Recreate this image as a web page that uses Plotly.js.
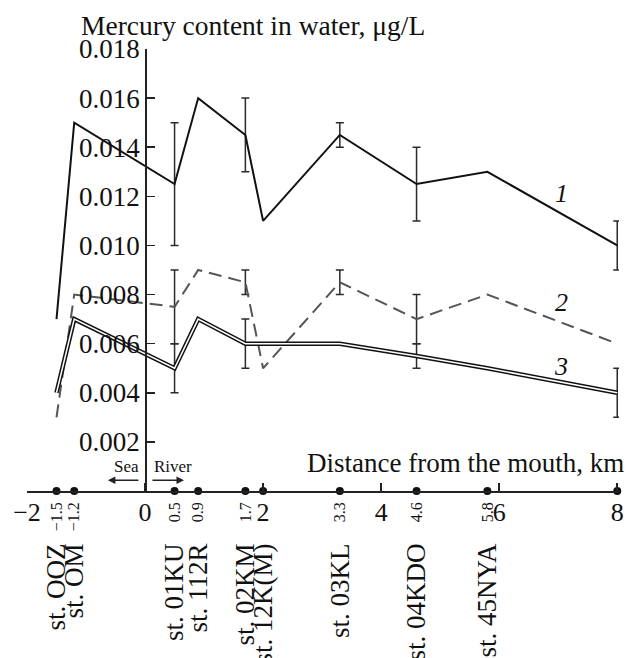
<!DOCTYPE html>
<html>
<head>
<meta charset="utf-8">
<script src="https://cdn.plot.ly/plotly-3.0.1.min.js"></script>
<style>html,body{margin:0;padding:0;background:#fff;}#chart{width:629px;height:658px;}</style>
</head>
<body>
<div id="chart"></div>
<script>
// Station positions (distance from the mouth, km) and names
const stationX = [-1.5, -1.2, 0.5, 0.9, 1.7, 2, 3.3, 4.6, 5.8, 8];
const stationKm = ["\u22121.5", "\u22121.2", "0.5", "0.9", "1.7", "", "3.3", "4.6", "5.8", ""];
const stationNames = ["st. OOZ", "st. OM", "st. 01KU", "st. 112R", "st. 02KM", "st. 12K(M)",
                      "st. 03KL", "st. 04KDO", "st. 45NYA", "st. 05KYA"];

// Series 1 (solid)
const hg1 = [0.007, 0.015, 0.0125, 0.016, 0.0145, 0.011, 0.0145, 0.0125, 0.013, 0.010];
const hg1Low = [null, null, 0.010, null, 0.013, null, 0.014, 0.011, null, 0.009];
const hg1High = [null, null, 0.015, null, 0.016, null, 0.015, 0.014, null, 0.011];
// Series 2 (dashed)
const hg2 = [0.003, 0.008, 0.0075, 0.009, 0.0085, 0.005, 0.0085, 0.007, 0.008, 0.006];
const hg2Low = [null, null, 0.006, null, 0.008, null, 0.008, 0.006, null, null];
const hg2High = [null, null, 0.009, null, 0.009, null, 0.009, 0.008, null, null];
// Series 3 (double line)
const hg3 = [0.004, 0.007, 0.005, 0.007, 0.006, 0.006, 0.006, 0.0055, 0.005, 0.004];
const hg3Low = [null, null, 0.004, null, 0.005, null, null, 0.005, null, 0.003];
const hg3High = [null, null, 0.006, null, 0.007, null, null, 0.006, null, 0.005];

const xTickVals = [-2, 0, 2, 4, 6, 8];
const xTickText = ["\u22122", "0", "2", "4", "6", "8"];
const yTickVals = [0.002, 0.004, 0.006, 0.008, 0.010, 0.012, 0.014, 0.016, 0.018];
const yTickText = ["0.002", "0.004", "0.006", "0.008", "0.010", "0.012", "0.014", "0.016", "0.018"];

const xRange = [-2, 8.03];
const yRange = [0, 0.018];
const SERIF = "Liberation Serif, Times New Roman, serif";

function errPlus(v, hi) { return v.map((d, i) => hi[i] == null ? NaN : hi[i] - d); }
function errMinus(v, lo) { return v.map((d, i) => lo[i] == null ? NaN : d - lo[i]); }
function errBar(v, lo, hi) {
  return {type: 'data', symmetric: false, array: errPlus(v, hi), arrayminus: errMinus(v, lo),
          color: '#2a2a2a', thickness: 1.5, width: 4};
}

const traces = [
  {x: stationX, y: hg1, mode: 'lines', line: {color: '#111', width: 2},
   error_y: errBar(hg1, hg1Low, hg1High), name: '1', cliponaxis: false},
  {x: stationX, y: hg2, mode: 'lines', line: {color: '#555', width: 2, dash: '13px,7px'},
   error_y: errBar(hg2, hg2Low, hg2High), name: '2', cliponaxis: false},
  {x: stationX, y: hg3, mode: 'lines', line: {color: '#111', width: 4.5},
   error_y: errBar(hg3, hg3Low, hg3High), name: '3', cliponaxis: false},
  {x: stationX, y: hg3, mode: 'lines', line: {color: '#fff', width: 1.5},
   name: '3 inner', cliponaxis: false, hoverinfo: 'skip'},
  {x: stationX, y: stationX.map(() => yRange[0]), mode: 'markers',
   marker: {color: '#111', size: 8}, cliponaxis: false, name: 'stations', xaxis: 'x2'},
  {x: stationX, y: stationX.map(() => yRange[0]), mode: 'markers',
   marker: {color: 'rgba(0,0,0,0)', size: 1}, cliponaxis: false, name: 'names', xaxis: 'x3', hoverinfo: 'skip'}
];

const yAxisPos = (0 - xRange[0]) / (xRange[1] - xRange[0]);

const layout = {
  width: 629, height: 658,
  margin: {l: 27, r: 10, t: 49, b: 167.3},
  paper_bgcolor: '#fff', plot_bgcolor: '#fff',
  showlegend: false,
  font: {family: SERIF, color: '#111', size: 24},
  xaxis: {
    range: xRange, showgrid: false, zeroline: false,
    showline: true, linecolor: '#222', linewidth: 1.5,
    ticks: 'inside', ticklen: 8, tickwidth: 1.5, tickcolor: '#222',
    tickvals: xTickVals, ticktext: xTickText,
    tickfont: {family: SERIF, size: 26, color: '#111'}, ticklabelstandoff: -3
  },
  xaxis2: {
    overlaying: 'x', matches: 'x', anchor: 'y', side: 'bottom',
    range: xRange, showgrid: false, zeroline: false, showline: false, ticks: '',
    tickvals: stationX, ticktext: stationKm, tickangle: -90,
    tickfont: {family: SERIF, size: 16, color: '#111'}, ticklabelstandoff: 7
  },
  xaxis3: {
    overlaying: 'x', matches: 'x', anchor: 'y', side: 'bottom',
    range: xRange, showgrid: false, zeroline: false, showline: false, ticks: '',
    tickvals: stationX, ticktext: stationNames, tickangle: -90,
    tickfont: {family: SERIF, size: 27, color: '#111'}, ticklabelstandoff: 46
  },
  yaxis: {
    range: yRange, anchor: 'free', position: yAxisPos,
    showgrid: false, zeroline: false,
    showline: true, linecolor: '#222', linewidth: 1.5,
    ticks: 'inside', ticklen: 8, tickwidth: 1.5, tickcolor: '#222',
    tickvals: yTickVals, ticktext: yTickText,
    tickfont: {family: SERIF, size: 27, color: '#111'}
  },
  annotations: [
    {text: 'Mercury content in water, \u03bcg/L', xref: 'paper', yref: 'paper',
     x: (79 - 27) / 592, y: 1.054, xanchor: 'left', yanchor: 'middle', showarrow: false,
     font: {family: SERIF, size: 27.5, color: '#111'}},
    {text: 'Distance from the mouth, km', xref: 'paper', yref: 'paper',
     x: 1.012, y: 0.063, xanchor: 'right', yanchor: 'middle', showarrow: false,
     font: {family: SERIF, size: 27, color: '#111'}},
    {text: 'Sea', xref: 'x', yref: 'y', x: -0.32, y: 0.00098, showarrow: false,
     font: {family: SERIF, size: 17, color: '#111'}},
    {text: 'River', xref: 'x', yref: 'y', x: 0.47, y: 0.00098, showarrow: false,
     font: {family: SERIF, size: 17, color: '#111'}},
    {text: '', xref: 'x', yref: 'y', x: -0.63, y: 0.00044, ax: 32, ay: 0,
     showarrow: true, arrowhead: 2, arrowsize: 1, arrowwidth: 1.5, arrowcolor: '#222'},
    {text: '', xref: 'x', yref: 'y', x: 0.66, y: 0.00044, ax: -33, ay: 0,
     showarrow: true, arrowhead: 2, arrowsize: 1, arrowwidth: 1.5, arrowcolor: '#222'},
    {text: '<i>1</i>', xref: 'x', yref: 'y', x: 7.05, y: 0.0121, showarrow: false,
     font: {family: SERIF, size: 26, color: '#111'}},
    {text: '<i>2</i>', xref: 'x', yref: 'y', x: 7.05, y: 0.00768, showarrow: false,
     font: {family: SERIF, size: 26, color: '#111'}},
    {text: '<i>3</i>', xref: 'x', yref: 'y', x: 7.05, y: 0.00508, showarrow: false,
     font: {family: SERIF, size: 26, color: '#111'}}
  ]
};

Plotly.newPlot('chart', traces, layout, {staticPlot: true, displayModeBar: false});
</script>
</body>
</html>
